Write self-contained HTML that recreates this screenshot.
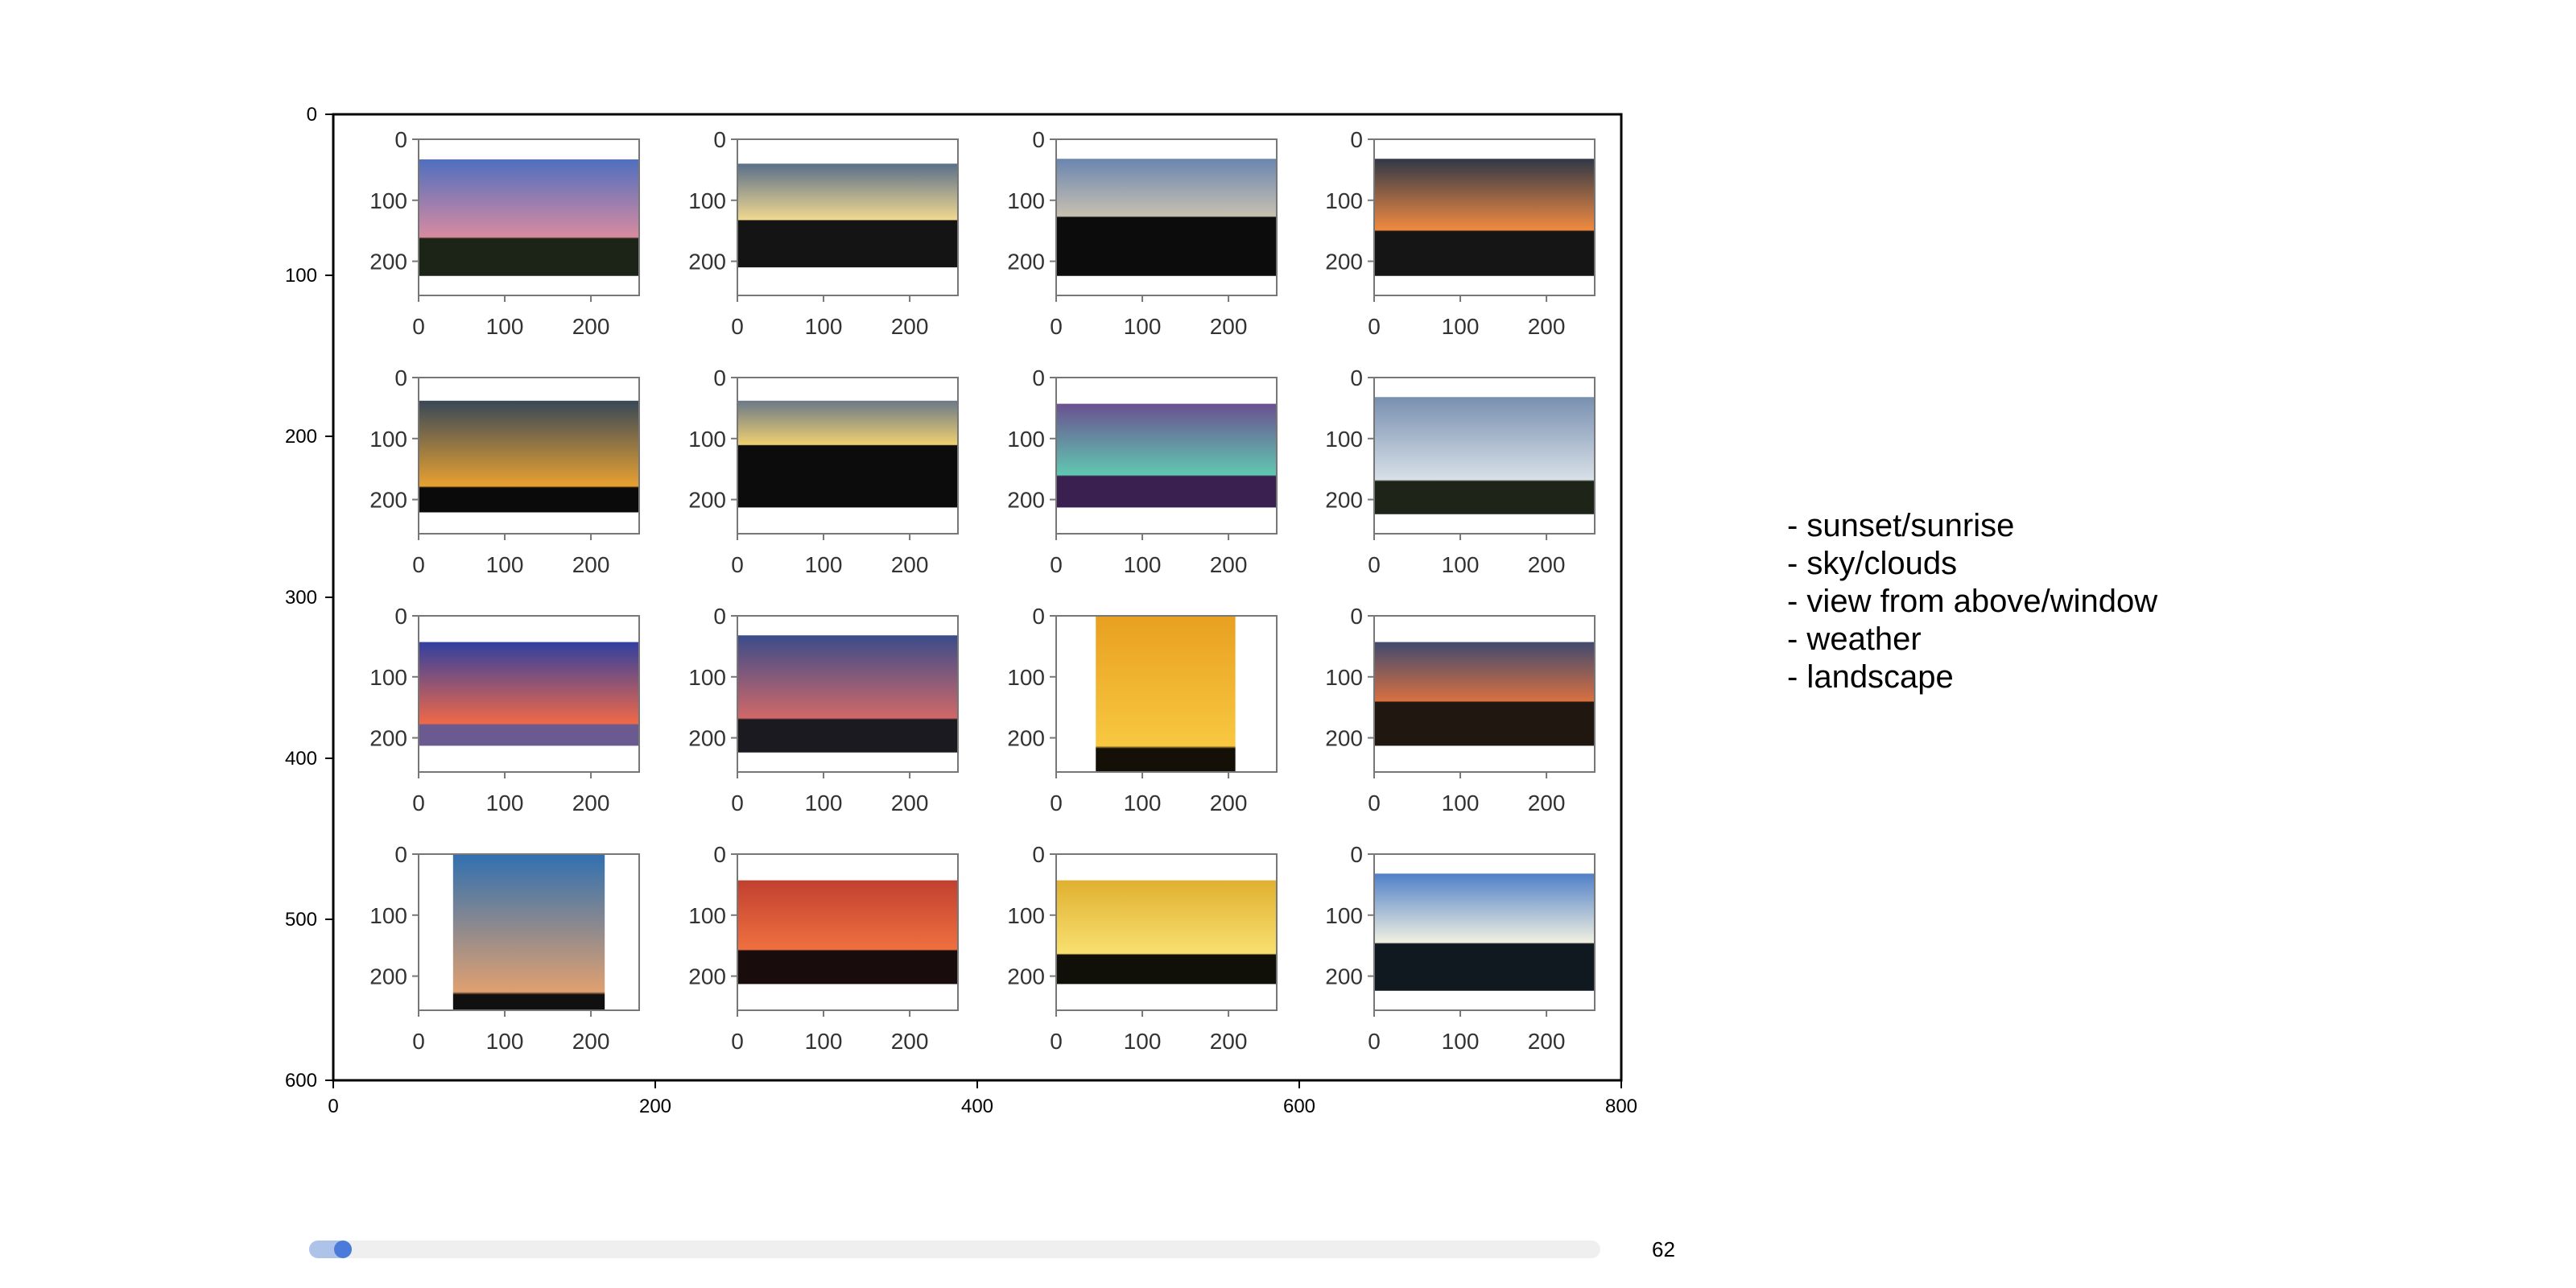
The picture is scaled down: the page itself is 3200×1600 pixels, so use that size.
<!DOCTYPE html>
<html><head><meta charset="utf-8"><style>
html,body{margin:0;padding:0;background:#fff;width:3200px;height:1600px;overflow:hidden}
svg{display:block}
</style></head><body>
<svg id="fig" width="3200" height="1600" xmlns="http://www.w3.org/2000/svg" font-family="Liberation Sans, sans-serif">
<defs id="defs"></defs>
<g id="main"></g>
<g id="subs"></g>
<g font-size="40" fill="#000">
<text x="2220" y="666">- sunset/sunrise</text>
<text x="2220" y="713">- sky/clouds</text>
<text x="2220" y="760">- view from above/window</text>
<text x="2220" y="807">- weather</text>
<text x="2220" y="854">- landscape</text>
</g>
<g>
<rect x="384" y="1541" width="1604" height="22" rx="11" fill="#efefef"/>
<rect x="384" y="1541" width="48" height="22" rx="11" fill="#aec3ea"/>
<circle cx="426" cy="1552" r="11" fill="#4a7bd8"/>
<text x="2052" y="1561" font-size="26" fill="#000">62</text>
</g>
</svg>
<script>
const mainXTicks=[0,200,400,600,800];
const mainYTicks=[0,100,200,300,400,500,600];
const subTicks=[0,100,200];
// image extents in subplot data units (x0,x1,y0,y1), 0..256 range
const imgX0=[0,0,0,0, 0,0,0,0, 0,0,46,0, 40,0,0,0];
const imgX1=[256,256,256,256, 256,256,256,256, 256,256,208,256, 216,256,256,256];
const imgY0=[33,40,32,32, 38,38,43,32, 43,32,0,43, 0,43,43,32];
const imgY1=[224,210,224,224, 221,213,213,224, 213,224,256,213, 256,213,213,224];
const skyTop=["#4f6fc0","#5a6f8a","#6a86b0","#303848","#384858","#6a7888","#6a5090","#7890b0","#3040a0","#3a4c8a","#e8a020","#404a70","#3070b0","#c04030","#e0b030","#5080c8"];
const skyLow=["#d88aa0","#f0d890","#c8c0b0","#f08a40","#e8a030","#f0d070","#60c8b0","#d8e0e8","#f06848","#d06868","#f8c840","#d87040","#e0a070","#f07040","#f8e070","#f0f0e0"];
const ground=["#1c2418","#141414","#0c0c0c","#151515","#0a0a0a","#0c0c0c","#3a2050","#1e2418","#6a5a90","#1a1a20","#141008","#201810","#101010","#180c0c","#101008","#101820"];
const groundFrac=[0.68,0.55,0.5,0.62,0.78,0.42,0.7,0.72,0.8,0.72,0.85,0.58,0.9,0.68,0.72,0.6];

const NS="http://www.w3.org/2000/svg";
function mk(tag,attrs,parent){const e=document.createElementNS(NS,tag);for(const k in attrs)e.setAttribute(k,attrs[k]);parent.appendChild(e);return e;}
const main=document.getElementById('main'),subs=document.getElementById('subs'),defs=document.getElementById('defs');
const MX0=414,MX1=2014,MY0=142,MY1=1342;
const mx=v=>MX0+(v-0)/800*(MX1-MX0), my=v=>MY0+v/600*(MY1-MY0);
const frame=mk('rect',{x:MX0,y:MY0,width:MX1-MX0,height:MY1-MY0,fill:'none',stroke:'#000','stroke-width':3},main);


mainXTicks.forEach(v=>{
  const t=mk('line',{x1:mx(v),x2:mx(v),y1:MY1,y2:MY1+10,stroke:'#000','stroke-width':2},main);
  
  
  const l=mk('text',{x:mx(v),y:MY1+40,'text-anchor':'middle','font-size':24},main);l.textContent=v;
  
  
});
mainYTicks.forEach(v=>{
  const t=mk('line',{x1:MX0-10,x2:MX0,y1:my(v),y2:my(v),stroke:'#000','stroke-width':2},main);
  
  
  const l=mk('text',{x:MX0-20,y:my(v)+8,'text-anchor':'end','font-size':24},main);l.textContent=v;
  
  
});
const colL=[520,916,1312,1707], rowT=[173,469,765,1061], SW=274, SH=194;
for(let i=0;i<16;i++){
  const L=colL[i%4],T=rowT[Math.floor(i/4)];
  const sx=v=>L+v/256*SW, sy=v=>T+v/256*SH;
  const g=mk('g',{},subs);
  
  
  const gid='g'+i;
  const lg=mk('linearGradient',{id:gid,x1:0,y1:0,x2:0,y2:1},defs);
  mk('stop',{offset:0,'stop-color':skyTop[i]},lg);
  mk('stop',{offset:groundFrac[i]*0.98,'stop-color':skyLow[i]},lg);
  mk('stop',{offset:groundFrac[i],'stop-color':ground[i]},lg);
  mk('stop',{offset:1,'stop-color':ground[i]},lg);
  const x0=sx(imgX0[i]),x1=sx(imgX1[i]),y0=sy(imgY0[i]),y1=sy(imgY1[i]);
  const im=mk('rect',{x:x0,y:y0,width:x1-x0,height:y1-y0,fill:'url(#'+gid+')'},g);
  
  
  const fr=mk('rect',{x:L,y:T,width:SW,height:SH,fill:'none',stroke:'#777','stroke-width':2},g);
  
  
  subTicks.forEach(v=>{
    const a=mk('line',{x1:sx(v),x2:sx(v),y1:T+SH,y2:T+SH+8,stroke:'#777','stroke-width':2},g);
    
    
    const al=mk('text',{x:sx(v),y:T+SH+48,'text-anchor':'middle','font-size':28,fill:'#333'},g);al.textContent=v;
    
    
    const b=mk('line',{x1:L-8,x2:L,y1:sy(v),y2:sy(v),stroke:'#777','stroke-width':2},g);
    
    
    const bl=mk('text',{x:L-14,y:sy(v)+10,'text-anchor':'end','font-size':28,fill:'#333'},g);bl.textContent=v;
    
    
  });
}
</script>
</body></html>
